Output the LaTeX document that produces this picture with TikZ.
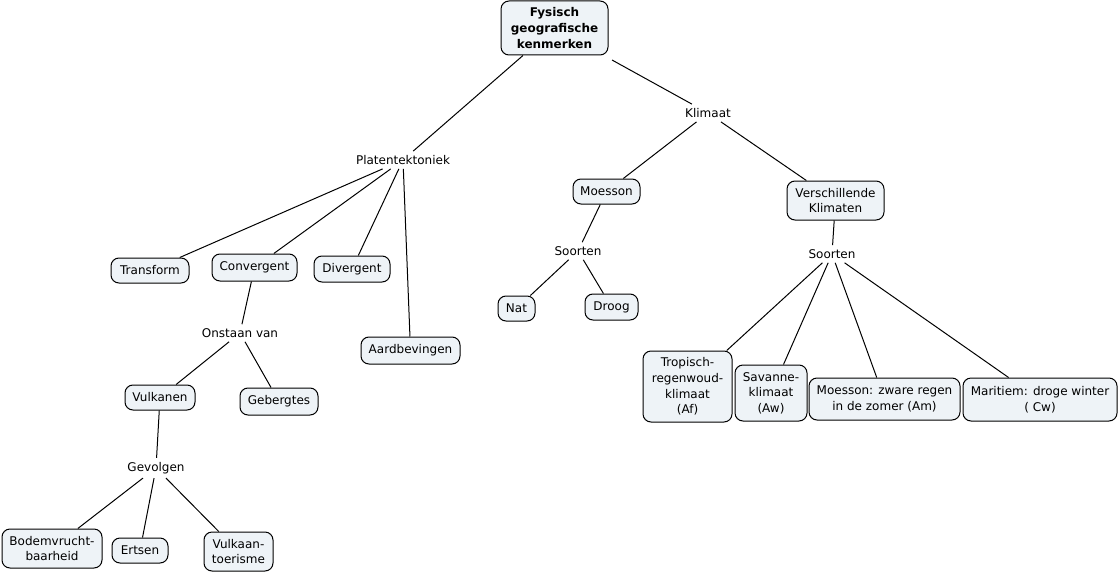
\documentclass[tikz,border=0pt]{standalone}
\usepackage{fontspec}
\setmainfont{DejaVu Sans}
\begin{document}
\begin{tikzpicture}[x=0.75pt,y=-0.75pt,
  every node/.style={font=\fontsize{9}{11.7}\selectfont, align=center, inner sep=2pt},
  box/.style={draw=black, line width=0.75pt, rounded corners=6pt, fill=boxfill, inner sep=0pt},
  lbl/.style={fill=white, inner sep=3pt},
  conn/.style={draw=black, line width=0.75pt}]
\definecolor{boxfill}{RGB}{238,243,247}
\useasboundingbox (0,0) rectangle (1119,574);
% boxes
\node[box, minimum width=107*0.75pt, minimum height=54*0.75pt, font=\bfseries\fontsize{9}{11.7}\selectfont] (fys) at (554.5,28) {Fysisch\\geografische\\kenmerken};
\node[lbl] (klim) at (708,113) {Klimaat};
\node[lbl] (plat) at (403,160) {Platentektoniek};
\node[box, minimum width=67*0.75pt, minimum height=25*0.75pt] (moes) at (606.5,191.5) {Moesson};
\node[box, minimum width=97*0.75pt, minimum height=39*0.75pt] (versch) at (835.5,200.5) {Verschillende\\Klimaten};
\node[lbl] (soorL) at (578,251) {Soorten};
\node[lbl] (soorR) at (832,254) {Soorten};
\node[box, minimum width=37*0.75pt, minimum height=25*0.75pt] (nat) at (516.5,308.5) {Nat};
\node[box, minimum width=53*0.75pt, minimum height=26*0.75pt] (droog) at (611.5,307) {Droog};
\node[box, minimum width=78*0.75pt, minimum height=25*0.75pt] (trans) at (150,270.5) {Transform};
\node[box, minimum width=85*0.75pt, minimum height=27*0.75pt] (conv) at (254.5,267.5) {Convergent};
\node[box, minimum width=76*0.75pt, minimum height=26*0.75pt] (div) at (352,269) {Divergent};
\node[box, minimum width=99*0.75pt, minimum height=27*0.75pt] (aard) at (410.5,350.5) {Aardbevingen};
\node[lbl] (onst) at (240,333) {Onstaan van};
\node[box, minimum width=70*0.75pt, minimum height=25*0.75pt] (vulk) at (160,397.5) {Vulkanen};
\node[box, minimum width=78*0.75pt, minimum height=27*0.75pt] (geb) at (279,401.5) {Gebergtes};
\node[lbl] (gev) at (156,468) {Gevolgen};
\node[box, minimum width=100*0.75pt, minimum height=39*0.75pt] (bod) at (52,548.5) {Bodemvrucht-\\baarheid};
\node[box, minimum width=56*0.75pt, minimum height=25*0.75pt] (erts) at (140,550.5) {Ertsen};
\node[box, minimum width=69*0.75pt, minimum height=39*0.75pt] (vtour) at (238.5,551.5) {Vulkaan-\\toerisme};
\node[box, minimum width=89*0.75pt, minimum height=71*0.75pt] (trop) at (687.5,386.5) {Tropisch-\\regenwoud-\\klimaat\\(Af)};
\node[box, minimum width=72*0.75pt, minimum height=56*0.75pt] (sav) at (771,393) {Savanne-\\klimaat\\(Aw)};
\node[box, minimum width=151*0.75pt, minimum height=42*0.75pt] (mzr) at (884.5,399) {Moesson: zware regen\\in de zomer (Am)};
\node[box, minimum width=154*0.75pt, minimum height=43*0.75pt] (mar) at (1040,399.5) {Maritiem: droge winter\\( Cw)};
\coordinate (fysR) at (612,60);
% connectors
\draw[conn] (fys) -- (plat);
\draw[conn] (fysR) -- (klim);
\draw[conn] (klim) -- (moes);
\draw[conn] (klim) -- (versch);
\draw[conn] (plat) -- (trans);
\draw[conn] (plat) -- (conv);
\draw[conn] (plat) -- (div);
\draw[conn] (plat) -- (aard);
\draw[conn] (moes) -- (soorL);
\draw[conn] (soorL) -- (nat);
\draw[conn] (soorL) -- (droog);
\draw[conn] (versch) -- (soorR);
\draw[conn] (soorR) -- (trop);
\draw[conn] (soorR) -- (sav);
\draw[conn] (soorR) -- (mzr);
\draw[conn] (soorR) -- (mar);
\draw[conn] (conv) -- (onst);
\draw[conn] (onst) -- (vulk);
\draw[conn] (onst) -- (geb);
\draw[conn] (vulk) -- (gev);
\draw[conn] (gev) -- (bod);
\draw[conn] (gev) -- (erts);
\draw[conn] (gev) -- (vtour);
\end{tikzpicture}
\end{document}
